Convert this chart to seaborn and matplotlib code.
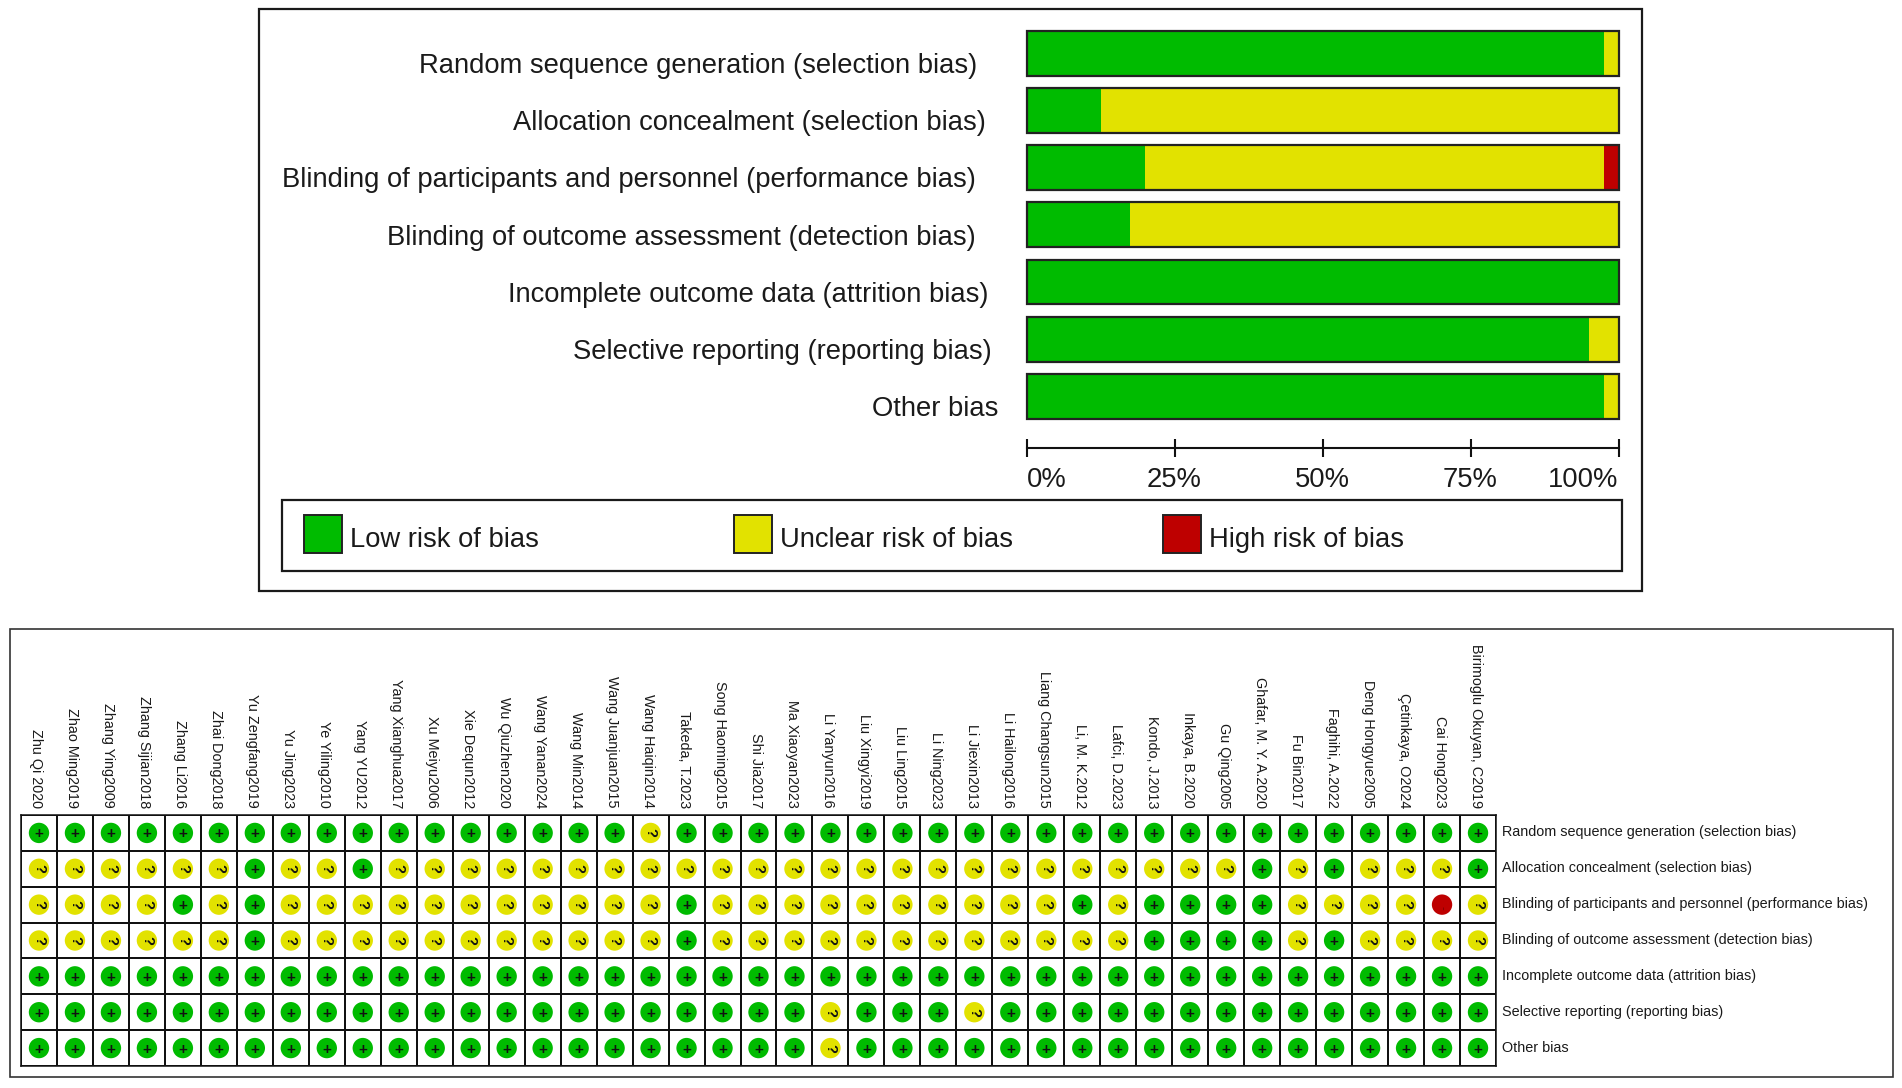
import numpy as np
import pandas as pd
import matplotlib
matplotlib.use('Agg')
import matplotlib.pyplot as plt
from matplotlib.colors import ListedColormap
from matplotlib.patches import Rectangle
import seaborn as sns

domains = ['Random sequence generation (selection bias)',
           'Allocation concealment (selection bias)',
           'Blinding of participants and personnel (performance bias)',
           'Blinding of outcome assessment (detection bias)',
           'Incomplete outcome data (attrition bias)',
           'Selective reporting (reporting bias)',
           'Other bias']
low_pct = [97.5, 12.5, 20, 17.5, 100, 95.1, 97.5]
unclear_pct = [2.5, 87.5, 77.5, 82.5, 0, 4.9, 2.5]
high_pct = [0, 0, 2.5, 0, 0, 0, 0]
pct_ticks = [0, 25, 50, 75, 100]
pct_labels = ['0%', '25%', '50%', '75%', '100%']
legend_names = ['Low risk of bias', 'Unclear risk of bias', 'High risk of bias']

studies = ['Zhu Qi 2020', 'Zhao Ming2019', 'Zhang Ying2009', 'Zhang Sijian2018', 'Zhang Li2016',
           'Zhai Dong2018', 'Yu Zengfang2019', 'Yu Jing2023', 'Ye Yiling2010', 'Yang YU2012',
           'Yang Xianghua2017', 'Xu Meiyu2006', 'Xie Dequn2012', 'Wu Qiuzhen2020', 'Wang Yanan2024',
           'Wang Min2014', 'Wang Juanjuan2015', 'Wang Haiqin2014', 'Takeda, T.2023', 'Song Haoming2015',
           'Shi Jia2017', 'Ma Xiaoyan2023', 'Li Yanyun2016', 'Liu Xingyi2019', 'Liu Ling2015',
           'Li Ning2023', 'Li Jiexin2013', 'Li Hailong2016', 'Liang Changsun2015', 'Li, M. K.2012',
           'Lafci, D.2023', 'Kondo, J.2013', 'Inkaya, B.2020', 'Gu Qing2005', 'Ghafar, M. Y. A.2020',
           'Fu Bin2017', 'Faghihi, A.2022', 'Deng Hongyue2005', 'Çetinkaya, O2024', 'Cai Hong2023',
           'Birimoglu Okuyan, C2019']

# one character per study, in blocks of ten
random_seq = '++++++++++ +++++++?++ ++++++++++ ++++++++++ +'
allocation = '??????+??+ ?????????? ?????????? ????+?+??? +'
performance = '????+?+??? ????????+? ?????????+ ?++++????- ?'
detection = '??????+??? ????????+? ?????????? ?++++?+??? ?'
attrition = '++++++++++ ++++++++++ ++++++++++ ++++++++++ +'
reporting = '++++++++++ ++++++++++ ++?+++?+++ ++++++++++ +'
other = '++++++++++ ++++++++++ ++?+++++++ ++++++++++ +'
judgements = [random_seq, allocation, performance, detection, attrition, reporting, other]

GREEN = '#00BB00'
YELLOW = '#E2E200'
RED = '#BE0000'
INK = '#1a1a1a'
FONT = 'Liberation Sans'
W, H = 1902, 1088

sns.set_style('white')
plt.rcParams['font.family'] = [FONT, 'DejaVu Sans']


def px_axes(fig, x0, y0, x1, y1):
    return fig.add_axes([x0 / W, 1 - y1 / H, (x1 - x0) / W, (y1 - y0) / H])


fig = plt.figure(figsize=(W / 100, H / 100), dpi=100, facecolor='white')

# page layer in pixel coordinates: frames, legend and the left hand labels
page = fig.add_axes([0, 0, 1, 1])
page.set_xlim(0, W)
page.set_ylim(H, 0)
page.axis('off')
page.add_patch(Rectangle((259, 9), 1383, 582, fill=False, ec='#1a1a1a', lw=1.6))
page.add_patch(Rectangle((10, 629), 1883, 448, fill=False, ec='#333333', lw=1.2))
page.add_patch(Rectangle((282, 499.5), 1340, 71.5, fill=False, ec='#1a1a1a', lw=1.6))

label_right = [977, 986, 976, 976, 988, 992, 998]
for i, name in enumerate(domains):
    page.text(label_right[i], 66 + i * 57.2, name, ha='right', va='center',
              fontsize=19.7, color=INK)

swatch_x = [304, 734, 1163]
for x, name, col in zip(swatch_x, legend_names, [GREEN, YELLOW, RED]):
    page.add_patch(Rectangle((x, 515), 38, 38, fc=col, ec='#222222', lw=1.4))
    page.text(x + 46, 540, name, ha='left', va='center', fontsize=19.7, color=INK)

# summary bars
bars = pd.DataFrame({'domain': domains, 'low': low_pct, 'unclear': unclear_pct, 'high': high_pct})
bars['to_unclear'] = bars['low'] + bars['unclear']
bars['total'] = bars['to_unclear'] + bars['high']

ax = px_axes(fig, 1026.5, 24.6, 1618.5, 425)
ax.patch.set_alpha(0)
sns.barplot(data=bars, y='domain', x='total', color=RED, saturation=1, width=0.785, linewidth=0, ax=ax)
sns.barplot(data=bars, y='domain', x='to_unclear', color=YELLOW, saturation=1, width=0.785, linewidth=0, ax=ax)
sns.barplot(data=bars, y='domain', x='low', color=GREEN, saturation=1, width=0.785, linewidth=0, ax=ax)
sns.barplot(data=bars, y='domain', x='total', fill=False, color='#222222', linewidth=1.6,
            width=0.785, ax=ax, clip_on=False)
ax.set_xlim(0, 100)
ax.set_ylim(6.5, -0.5)
ax.set_xlabel('')
ax.set_ylabel('')
ax.set_yticks([])
for side in ['top', 'right', 'left']:
    ax.spines[side].set_visible(False)
ax.spines['bottom'].set_position(('outward', 16.5))
ax.spines['bottom'].set_color('#111111')
ax.spines['bottom'].set_linewidth(1.5)
ax.set_xticks(pct_ticks)
ax.set_xticklabels(pct_labels, fontsize=19.7, color=INK)
ax.tick_params(axis='x', bottom=True, direction='inout', length=13, width=1.5, color='#111111', pad=7)
tick_text = ax.get_xticklabels()
tick_text[0].set_ha('left')
tick_text[-1].set_ha('right')

# study by domain matrix
grid = pd.DataFrame([list(j.replace(' ', '')) for j in judgements], index=domains, columns=studies)
blank = pd.DataFrame(np.zeros(grid.shape), index=domains, columns=studies)

mx = px_axes(fig, 21, 815, 1496, 1066)
sns.heatmap(blank, cmap=ListedColormap(['white']), cbar=False, linewidths=1.1, linecolor='#111111',
            xticklabels=False, yticklabels=False, ax=mx)
for side in mx.spines:
    mx.spines[side].set_visible(True)
    mx.spines[side].set_linewidth(1.1)
    mx.spines[side].set_color('#111111')

long = grid.reset_index(names='domain').melt(id_vars='domain', var_name='study', value_name='mark')
long['col'] = long['study'].map({s: i for i, s in enumerate(studies)}) + 0.5
long['row'] = long['domain'].map({d: i for i, d in enumerate(domains)}) + 0.5
sns.scatterplot(data=long, x='col', y='row', hue='mark', palette={'+': GREEN, '?': YELLOW, '-': RED},
                s=215, linewidth=0, legend=False, ax=mx, zorder=3)
mx.set_xlim(0, len(studies))
mx.set_ylim(len(domains), 0)
mx.set_xlabel('')
mx.set_ylabel('')
for _, r in long.iterrows():
    sym = r['mark']
    if sym == '+':
        mx.text(r['col'], r['row'], '+', ha='center', va='center_baseline', fontsize=11, fontweight='bold',
                color='#111111', zorder=4)
    elif sym == '?':
        mx.text(r['col'], r['row'], '?', ha='center', va='center', fontsize=10.5, fontweight='bold',
                rotation=-90, color='#111111', zorder=4)
    else:
        mx.text(r['col'], r['row'] + 0.1, '-', ha='center', va='center', fontsize=8,
                rotation=-90, color='#7a0000', zorder=4)

for i, name in enumerate(studies):
    x = 21 + (i + 0.5) * (1475 / len(studies)) - 2.5
    page.text(x, 808, name, rotation=-90, ha='center', va='bottom', fontsize=10.4, color=INK)
for i, name in enumerate(domains):
    page.text(1502, 815 + (i + 0.5) * 251 / 7 - 0.5, name, ha='left', va='center', fontsize=10.4, color=INK)

fig.savefig('out.png', dpi=100, facecolor='white')
